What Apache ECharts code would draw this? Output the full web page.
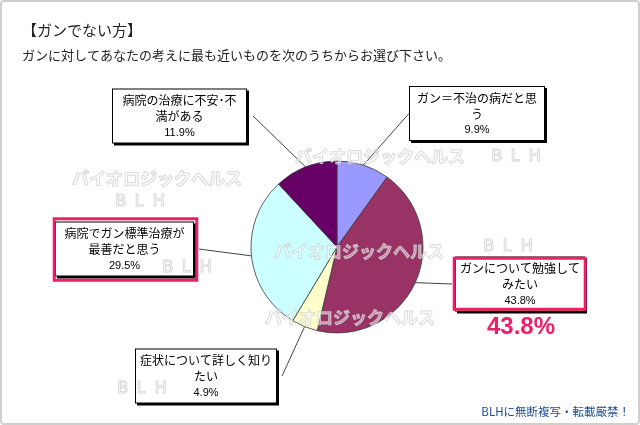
<!DOCTYPE html>
<html><head><meta charset="utf-8">
<script src="https://cdn.jsdelivr.net/npm/echarts@6/dist/echarts.min.js"></script>
<style>html,body{margin:0;padding:0;background:#fff}#c{width:640px;height:425px}</style>
</head><body><div id="c"></div>
<script>
// ---- data ----
const categories = [
  'ガン＝不治の病だと思\nう',
  'ガンについて勉強して\nみたい',
  '症状について詳しく知り\nたい',
  '病院でガン標準治療が\n最善だと思う',
  '病院の治療に不安･不\n満がある'
];
const values = [9.9, 43.8, 4.9, 29.5, 11.9];
const titleText = '【ガンでない方】';
const subtitleText = 'ガンに対してあなたの考えに最も近いものを次のうちからお選び下さい。';
const watermarkText = 'バイオロジックヘルス';
const watermarkShort = 'B  L  H';
const footerText = 'BLHに無断複写・転載厳禁！';
const highlightIndex = 1;

// ---- styles / layout ----
const colors = ['#9999FF', '#993366', '#FFFFCC', '#CCFFFF', '#660066'];
const labelPos = [[477, 113.5], [520, 284], [206, 376], [124.5, 249], [179.5, 116]];
const labelBoxW = [134, 128, 140, 137, 133];
const lineSide = [-1, -1, 1, 1, 1];
const lineGap = [0, 3, 5, 5, 6];

const chart = echarts.init(document.getElementById('c'), null, {renderer: 'canvas'});

const data = categories.map((name, i) => ({
  name: name, value: values[i],
  itemStyle: {color: colors[i]},
  label: {width: labelBoxW[i] - 6}
}));

function wm(text, x, y, size, family, weight) {
  return {
    type: 'text', x: x, y: y, z: 100, silent: true,
    style: {
      text: text, align: 'center', verticalAlign: 'middle',
      font: weight + ' ' + size + 'px ' + family,
      fill: 'rgba(255,255,255,0.45)', stroke: 'rgba(195,195,195,0.8)', lineWidth: 1
    }
  };
}

const graphics = [
  {type: 'rect', shape: {x: 1, y: 1, width: 638, height: 423, r: 3}, style: {fill: 'none', stroke: '#cfcfcf', lineWidth: 2}, z: 1},
  {type: 'text', x: 22, y: 30, style: {text: titleText, font: '15px "Noto Sans CJK JP"', fill: '#222', verticalAlign: 'middle'}},
  {type: 'text', x: 22, y: 55.5, style: {text: subtitleText, font: '13px "Noto Sans CJK JP"', fill: '#222', verticalAlign: 'middle'}},
  {type: 'text', x: 630, y: 411.5, style: {text: footerText, font: '11.5px "Noto Sans CJK JP"', fill: '#1e4a94', align: 'right', verticalAlign: 'middle'}},
  // pink highlight frames
  {type: 'rect', z: 50, shape: {x: 54.2, y: 218.8, width: 142.6, height: 61.4}, style: {fill: 'none', stroke: '#EE1F66', lineWidth: 3}},
  {type: 'rect', z: 50, shape: {x: 454.2, y: 258.2, width: 131, height: 51}, style: {fill: 'none', stroke: '#EE1F66', lineWidth: 3}},
  {type: 'text', x: 521, y: 327, z: 60, style: {
    text: values[highlightIndex].toFixed(1) + '%', font: 'bold 24px "Liberation Sans"', fill: '#EE1F66',
    align: 'center', verticalAlign: 'middle', stroke: '#fff', lineWidth: 1,
    shadowColor: 'rgba(0,0,0,0.35)', shadowOffsetX: 2, shadowOffsetY: 2, shadowBlur: 1}},
  wm(watermarkText, 157, 179, 17, '"Noto Sans CJK JP"', 'bold'),
  wm(watermarkText, 380, 157, 17, '"Noto Sans CJK JP"', 'bold'),
  wm(watermarkText, 359, 251.5, 17, '"Noto Sans CJK JP"', 'bold'),
  wm(watermarkText, 350, 318, 17, '"Noto Sans CJK JP"', 'bold'),
  wm(watermarkShort, 140, 201.5, 16, '"Liberation Sans"', 'normal'),
  wm(watermarkShort, 516, 157, 16, '"Liberation Sans"', 'normal'),
  wm(watermarkShort, 508, 247, 16, '"Liberation Sans"', 'normal'),
  wm(watermarkShort, 187, 268, 16, '"Liberation Sans"', 'normal'),
  wm(watermarkShort, 142, 389, 16, '"Liberation Sans"', 'normal')
];

chart.setOption({
  animation: false,
  backgroundColor: '#fff',
  graphic: graphics,
  series: [{
    type: 'pie',
    center: [337, 247],
    radius: 86,
    startAngle: 90,
    clockwise: true,
    avoidLabelOverlap: false,
    itemStyle: {borderColor: '#3a3a3a', borderWidth: 0.8},
    emphasis: {disabled: true},
    label: {
      show: true, position: 'outside', overflow: 'none',
      formatter: p => '{n|' + p.name + '}\n{p|' + p.value.toFixed(1) + '%}',
      backgroundColor: '#fff', borderColor: '#000', borderWidth: 1,
      shadowColor: '#000', shadowOffsetX: 2, shadowOffsetY: 2, shadowBlur: 0,
      padding: [3, 3, 2, 3], align: 'center',
      rich: {
        n: {fontFamily: '"Noto Sans CJK JP"', fontSize: 12, lineHeight: 16, color: '#000', align: 'center'},
        p: {fontFamily: '"Liberation Sans"', fontSize: 11, lineHeight: 16, color: '#000', align: 'center'}
      }
    },
    labelLine: {show: true, length: 10, length2: 10, lineStyle: {color: '#444', width: 1}},
    labelLayout: function (params) {
      const i = params.dataIndex;
      const c = labelPos[i];
      const w = params.labelRect.width;
      const pts = params.labelLinePoints;
      const start = pts ? [pts[0][0], pts[0][1]] : [c[0], c[1]];
      const endX = c[0] + lineSide[i] * (w / 2 + lineGap[i]);
      return {x: c[0], y: c[1], align: 'center', verticalAlign: 'middle', labelLinePoints: [start, [endX, c[1]]]};
    },
    data: data
  }]
});
</script></body></html>
